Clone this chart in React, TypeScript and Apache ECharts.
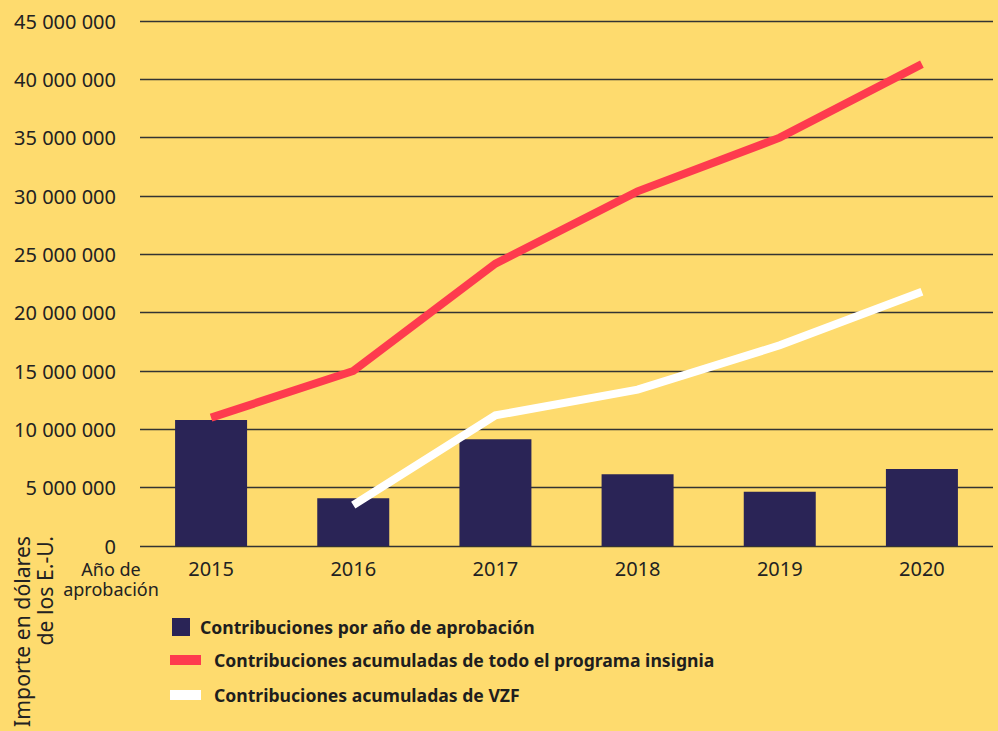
import React, { useEffect, useRef } from "react";
import * as echarts from "echarts";

const years = ["2015", "2016", "2017", "2018", "2019", "2020"];
const annualContrib = [10800000, 4100000, 9150000, 6150000, 4650000, 6600000];
const cumulativeProgram = [11000000, 15000000, 24200000, 30400000, 35000000, 41300000];
const cumulativeVZF = [null, 3500000, 11200000, 13400000, 17200000, 21800000];

const nameBar = "Contribuciones por año de aprobación";
const nameRed = "Contribuciones acumuladas de todo el programa insignia";
const nameWhite = "Contribuciones acumuladas de VZF";

const BG = "#FEDB6E";
const NAVY = "#2A2456";
const RED = "#FE3B4E";
const WHITE = "#FFFFFF";
const TEXT = "#222222";
const FONT = "'Noto Sans', 'Open Sans', sans-serif";

const fmt = (v: number) => String(v).replace(/\B(?=(\d{3})+(?!\d))/g, " ");

export default function App() {
  const ref = useRef<HTMLDivElement>(null);
  useEffect(() => {
    if (!ref.current) return;
    const chart = echarts.init(ref.current, null, { renderer: "svg" });
    const legendText = {
      color: "#1e1e1e",
      fontFamily: FONT,
      fontSize: 17.6,
      lineHeight: 20,
      fontWeight: "bold" as const,
    };
    chart.setOption({
      animation: false,
      backgroundColor: BG,
      textStyle: { fontFamily: FONT },
      grid: { left: 140, right: 5, top: 21, bottom: 185 },
      xAxis: {
        type: "category",
        data: years,
        axisLine: { show: false },
        axisTick: { show: false },
        axisLabel: { color: TEXT, fontSize: 20, fontFamily: FONT, margin: 12 },
      },
      yAxis: {
        type: "value",
        min: 0,
        max: 45000000,
        interval: 5000000,
        axisLine: { show: false },
        axisTick: { show: false },
        splitLine: { lineStyle: { color: "#333333", width: 1.3 } },
        axisLabel: {
          color: TEXT,
          fontSize: 20,
          fontFamily: FONT,
          margin: 24,
          formatter: (v: number) => fmt(v),
        },
      },
      legend: [
        {
          data: [{ name: nameBar, icon: "rect" }],
          left: 172,
          top: 617,
          padding: 0,
          orient: "vertical",
          itemWidth: 18,
          itemHeight: 18,
          textStyle: { ...legendText, padding: [0, 0, 0, 5] },
          selectedMode: false,
        },
        {
          data: [{ name: nameRed, icon: "rect" }],
          left: 170,
          top: 650,
          padding: 0,
          orient: "vertical",
          itemWidth: 31,
          itemHeight: 10,
          textStyle: { ...legendText, padding: [0, 0, 0, 8] },
          selectedMode: false,
        },
        {
          data: [{ name: nameWhite, icon: "rect" }],
          left: 170,
          top: 685,
          padding: 0,
          orient: "vertical",
          itemWidth: 31,
          itemHeight: 10,
          textStyle: { ...legendText, padding: [0, 0, 0, 8] },
          selectedMode: false,
        },
      ],
      graphic: [
        {
          type: "text",
          x: 111,
          y: 559,
          style: {
            text: "Año de\naprobación",
            fontFamily: FONT,
            fontSize: 18,
            lineHeight: 20,
            fill: TEXT,
            align: "center",
            verticalAlign: "top",
          },
        },
        {
          type: "text",
          x: 10,
          y: 536,
          rotation: Math.PI / 2,
          style: {
            text: "Importe en dólares\nde los E.-U.",
            fontFamily: FONT,
            fontSize: 21.2,
            lineHeight: 23,
            fill: TEXT,
            align: "right",
            verticalAlign: "top",
          },
        },
      ],
      series: [
        {
          name: nameBar,
          type: "bar",
          data: annualContrib,
          barWidth: 72,
          itemStyle: { color: NAVY },
          z: 2,
        },
        {
          name: nameRed,
          type: "line",
          data: cumulativeProgram,
          symbol: "none",
          lineStyle: { color: RED, width: 8, cap: "butt", join: "miter" },
          itemStyle: { color: RED },
          z: 3,
        },
        {
          name: nameWhite,
          type: "line",
          data: cumulativeVZF,
          symbol: "none",
          lineStyle: { color: WHITE, width: 8, cap: "butt", join: "miter" },
          itemStyle: { color: WHITE },
          z: 3,
        },
      ],
    });
    return () => chart.dispose();
  }, []);
  return (
    <div
      ref={ref}
      style={{ position: "absolute", left: 0, top: 0, width: 998, height: 731 }}
    />
  );
}
